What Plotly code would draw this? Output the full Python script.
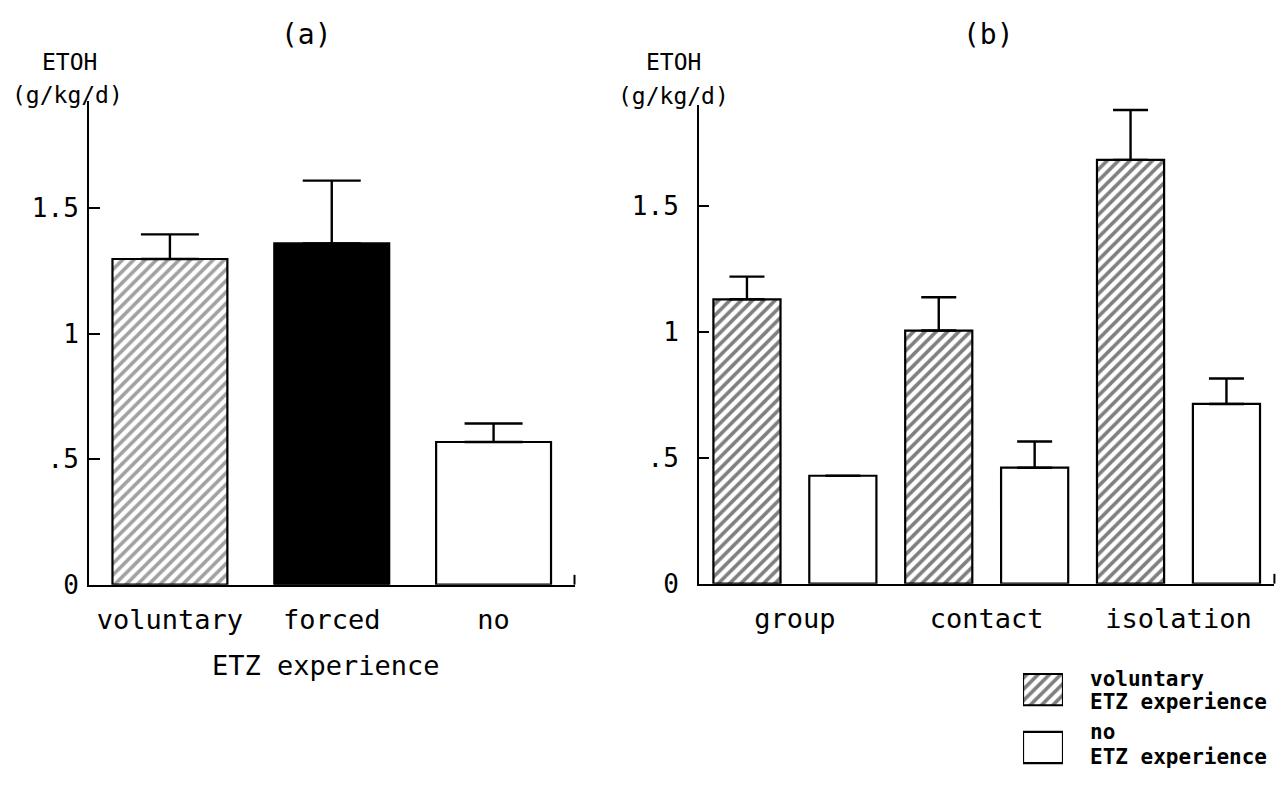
import plotly.graph_objects as go

W, H = 1281, 787
FONT = "DejaVu Sans Mono"

# ---------------- data ----------------
# Panel (a): ETOH intake by ETZ experience
a_categories = ["voluntary", "forced", "no"]
a_values = [1.297, 1.359, 0.568]
a_errors = [0.098, 0.250, 0.074]

# Panel (b): ETOH intake by housing condition
b_categories = ["group", "contact", "isolation"]
b_voluntary = [1.128, 1.004, 1.681]
b_voluntary_err = [0.090, 0.132, 0.198]
b_no = [0.428, 0.460, 0.713]
b_no_err = [0.0, 0.104, 0.101]

y_tickvals = [0, 0.5, 1, 1.5]
y_ticktext = ["0", ".5", "1", "1.5"]

legend_keys = ["voluntary", "no"]
legend_key_len = [1, 1]
legend_lines = [["voluntary", "ETZ experience"], ["no", "ETZ experience"]]


def px(x):
    return x / W


def py(y):
    return 1 - y / H


HSIZE, HSOL = 8, 0.45
HATCH = dict(shape="/", fgcolor="black", bgcolor="white", size=HSIZE, solidity=HSOL)
LINE = dict(color="black", width=2.2)

fig = go.Figure()

# ---- panel (a)
fig.add_trace(go.Bar(
    x=a_categories, y=a_values, xaxis="x", yaxis="y", width=0.71,
    marker=dict(color=["white", "black", "white"], line=LINE,
                pattern=dict(shape=["/", "", ""], fgcolor="black", bgcolor="white",
                             size=HSIZE, solidity=HSOL)),
    error_y=dict(type="data", array=a_errors, arrayminus=[0] * len(a_errors),
                 symmetric=False, color="black", thickness=2.4, width=29),
    hoverinfo="skip",
))

# ---- panel (b)
fig.add_trace(go.Bar(
    x=b_categories, y=b_voluntary, xaxis="x2", yaxis="y2", name="voluntary",
    marker=dict(color="white", line=LINE, pattern=HATCH),
    error_y=dict(type="data", array=b_voluntary_err, arrayminus=[0] * 3,
                 symmetric=False, color="black", thickness=2.4, width=17.5),
    hoverinfo="skip",
))
fig.add_trace(go.Bar(
    x=b_categories, y=b_no, xaxis="x2", yaxis="y2", name="no",
    marker=dict(color="white", line=LINE),
    error_y=dict(type="data", array=b_no_err, arrayminus=[0] * 3,
                 symmetric=False, color="black", thickness=2.4, width=17.5),
    hoverinfo="skip",
))

# ---- legend keys (hidden axis)
fig.add_trace(go.Bar(
    x=legend_key_len, y=legend_keys, orientation="h", xaxis="x3", yaxis="y3", width=0.54,
    marker=dict(color="white", line=LINE,
                pattern=dict(shape=["/", ""], fgcolor="black", bgcolor="white",
                             size=HSIZE, solidity=HSOL)),
    hoverinfo="skip",
))

axis_common = dict(showline=True, linewidth=2, linecolor="black", showgrid=False,
                   zeroline=False, fixedrange=True)

fig.update_layout(
    width=W, height=H, margin=dict(l=0, r=0, t=0, b=0),
    paper_bgcolor="white", plot_bgcolor="white", showlegend=False,
    font=dict(family=FONT, color="black", size=27),
    barmode="group", bargap=0.0, bargroupgap=0.3,
    xaxis=dict(domain=[px(89), px(574.5)], range=[-0.5, 2.5], anchor="y", ticks="",
               tickfont=dict(size=27), ticklabelstandoff=10, **axis_common),
    yaxis=dict(domain=[py(596), py(103)], range=[0, 1.926], anchor="x",
               ticks="inside", ticklen=11, tickwidth=2, tickcolor="black",
               tickvals=y_tickvals, ticktext=y_ticktext, tickfont=dict(size=26),
               ticklabelstandoff=3, **axis_common),
    xaxis2=dict(domain=[px(699), px(1274.4)], range=[-0.5, 2.5], anchor="y2", ticks="",
                tickfont=dict(size=27), ticklabelstandoff=10, **axis_common),
    yaxis2=dict(domain=[py(595), py(107)], range=[0, 1.899], anchor="x2",
                ticks="inside", ticklen=10, tickwidth=2, tickcolor="black",
                tickvals=y_tickvals, ticktext=y_ticktext, tickfont=dict(size=26),
                ticklabelstandoff=13, **axis_common),
    xaxis3=dict(domain=[px(1023), px(1063)], range=[0, 1], anchor="y3", visible=False,
                fixedrange=True),
    yaxis3=dict(domain=[py(785), py(680)], range=[-0.39, 1.39], anchor="x3",
                visible=False, type="category", categoryorder="array",
                categoryarray=["no", "voluntary"], fixedrange=True),
    shapes=[
        dict(type="line", xref="x domain", yref="y domain", x0=1, x1=1, y0=0, y1=10 / 493,
             line=dict(color="black", width=2)),
        dict(type="line", xref="x2 domain", yref="y2 domain", x0=1, x1=1, y0=0, y1=10 / 488,
             line=dict(color="black", width=2)),
    ],
)

ann = []
# panel titles
ann.append(dict(text="(a)", x=px(306), y=py(35), font=dict(size=28)))
ann.append(dict(text="(b)", x=px(988.6), y=py(35), font=dict(size=28)))
# y-axis titles
for cx1, cx2, yy in [(69.5, 67, 97), (673.5, 673, 98)]:
    ann.append(dict(text="ETOH", x=px(cx1), y=py(63), font=dict(size=23)))
    ann.append(dict(text="(g/kg/d)", x=px(cx2), y=py(yy), font=dict(size=23)))
# x-axis title panel (a)
ann.append(dict(text="ETZ experience", x=px(325.5), y=py(678), font=dict(size=27)))
# legend labels
leg_y = [[692, 716], [746, 772]]
for lines, ys in zip(legend_lines, leg_y):
    for t, yy in zip(lines, ys):
        ann.append(dict(text="<b>" + t + "</b>", x=px(1088), y=py(yy), xanchor="left",
                        font=dict(size=21)))

for a in ann:
    a.setdefault("xanchor", "center")
    a.update(xref="paper", yref="paper", yanchor="middle", showarrow=False)
fig.update_layout(annotations=ann)

fig.write_html("out.html", config={"displayModeBar": False},
               post_script="document.body.style.margin='0';")
